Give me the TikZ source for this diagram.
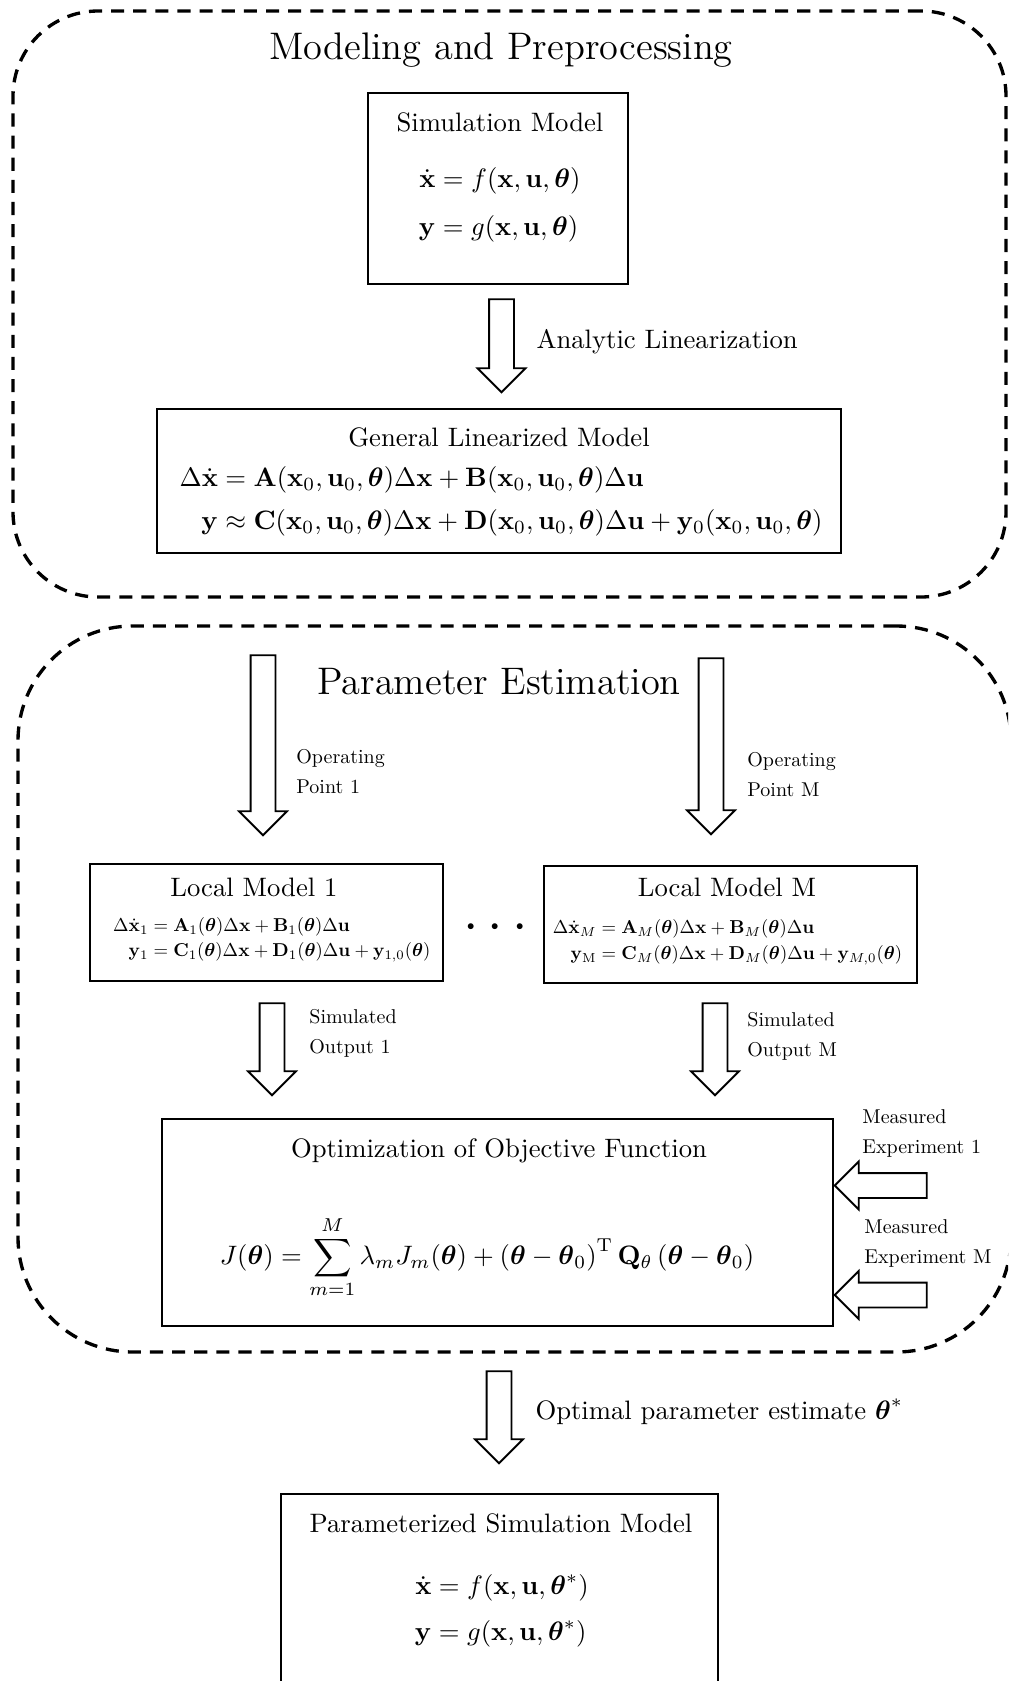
\documentclass[tikz,border=0pt]{standalone}
\usepackage{amsmath}
\usetikzlibrary{shapes.arrows}
\newcommand{\PX}{0.375pt}
\newcommand{\Vx}{\mathbf{x}}
\newcommand{\Vu}{\mathbf{u}}
\newcommand{\Vy}{\mathbf{y}}
\newcommand{\Vth}{\boldsymbol{\theta}}
\tikzset{
  panel/.style={draw, line width=1.25pt, dash pattern=on 4.9pt off 3.4pt, inner sep=0pt},
  box/.style={draw, line width=0.85pt, inner sep=0pt},
  txt/.style={inner sep=0pt},
  lab/.style={inner sep=0pt, anchor=west, align=left, font=\fontsize{10}{15}\selectfont, scale=0.75, transform shape},
  leq/.style={inner sep=0pt, anchor=west, scale=0.7, transform shape},
  eqline/.style={inner sep=0pt, anchor=west},
  blockarrow/.style={draw, line width=0.7pt, single arrow, single arrow head extend=4.3125pt,
    inner xsep=0pt, inner ysep=4.3125pt, minimum height=#1*0.375pt},
  darrow/.style={blockarrow=#1, rotate=-90},
  larrow/.style={blockarrow=#1, rotate=180},
}
\begin{document}
\begin{tikzpicture}[x=0.375pt, y=-0.375pt]
\useasboundingbox (0,0) rectangle (1008,1681);
\clip (0,0) rectangle (1008,1681);

% panels
\node[panel, rounded corners=31.9pt, minimum width=993*\PX, minimum height=586*\PX] (modpanel) at (509.5,304) {};
\node[panel, rounded corners=43pt, minimum width=993*\PX, minimum height=726*\PX] (estpanel) at (514.5,989) {};

% titles
\node[txt, font=\Large] (title1) at (501,50) {Modeling and Preprocessing};
\node[txt, font=\Large] (title2) at (499,682) {Parameter Estimation};

% simulation model
\node[box, minimum width=260*\PX, minimum height=191*\PX] (sim) at (498,188.5) {};
\node[txt] (simcap) at (500,122) {Simulation Model};
\node[eqline] (simeq1) at (435,181) {\llap{$\dot{\Vx}$}${}= f(\Vx,\Vu,\Vth)$};
\node[eqline] (simeq2) at (435,229) {\llap{$\Vy$}${}= g(\Vx,\Vu,\Vth)$};

% analytic linearization
\node[darrow=93] (alin) at (501.5,339.5) {};
\node[txt, anchor=west] (alinlab) at (536,342) {Analytic Linearization};

% general linearized model
\node[box, minimum width=684*\PX, minimum height=144*\PX] (glm) at (499,481) {};
\node[txt] (glmcap) at (499,437) {General Linearized Model};
\node[eqline] (glmeq1) at (217.5,480) {\llap{$\Delta\dot{\Vx}$}${}= \mathbf{A}(\Vx_0,\Vu_0,\Vth)\Delta\Vx + \mathbf{B}(\Vx_0,\Vu_0,\Vth)\Delta\Vu$};
\node[eqline] (glmeq2) at (217.5,523) {\llap{$\Vy$}${}\approx \mathbf{C}(\Vx_0,\Vu_0,\Vth)\Delta\Vx + \mathbf{D}(\Vx_0,\Vu_0,\Vth)\Delta\Vu + \Vy_0(\Vx_0,\Vu_0,\Vth)$};

% operating points
\node[darrow=180] (op1) at (263,739) {};
\node[lab] (op1lab) at (296,772) {Operating\\Point 1};
\node[darrow=176] (opM) at (711,740) {};
\node[lab] (opMlab) at (747,775) {Operating\\Point M};

% local models
\node[box, minimum width=353*\PX, minimum height=117*\PX] (lm1) at (266.5,922.5) {};
\node[txt] (lm1cap) at (254,887) {Local Model 1};
\node[leq] (lm1eq1) at (148,927) {\llap{$\Delta\dot{\Vx}_1$}${}= \mathbf{A}_1(\Vth)\Delta\Vx + \mathbf{B}_1(\Vth)\Delta\Vu$};
\node[leq] (lm1eq2) at (148,952) {\llap{$\Vy_1$}${}= \mathbf{C}_1(\Vth)\Delta\Vx + \mathbf{D}_1(\Vth)\Delta\Vu + \mathbf{y}_{1,0}(\Vth)$};

\node[txt, font=\fontsize{20.74}{24}\selectfont] (dots) at (500,928) {$\cdots$};

\node[box, minimum width=373*\PX, minimum height=117*\PX] (lmM) at (730.5,924.5) {};
\node[txt] (lmMcap) at (727,887) {Local Model M};
\node[leq] (lmMeq1) at (596,929) {\llap{$\Delta\dot{\Vx}_M$}${}= \mathbf{A}_M(\Vth)\Delta\Vx + \mathbf{B}_M(\Vth)\Delta\Vu$};
\node[leq] (lmMeq2) at (596,955) {\llap{$\Vy_{\mathrm{M}}$}${}= \mathbf{C}_M(\Vth)\Delta\Vx + \mathbf{D}_M(\Vth)\Delta\Vu + \Vy_{M,0}(\Vth)$};

% simulated outputs
\node[darrow=92] (so1) at (272,1043) {};
\node[lab] (so1lab) at (309,1033) {Simulated\\Output 1};
\node[darrow=92] (soM) at (715,1043) {};
\node[lab] (soMlab) at (747,1036) {Simulated\\Output M};

% optimization
\node[box, minimum width=671*\PX, minimum height=207*\PX] (opt) at (497.5,1222.5) {};
\node[txt] (optcap) at (499,1151) {Optimization of Objective Function};
\node[txt] (opteq) at (487,1257) {$\displaystyle J(\Vth) = \sum_{m=1}^{M}\lambda_m J_m(\Vth) + \left(\Vth-\Vth_0\right)^{\mathrm{T}}\mathbf{Q}_\theta\left(\Vth-\Vth_0\right)$};

% measured experiments
\node[larrow=92] (me1) at (887,1185.5) {};
\node[lab] (me1lab) at (862,1133) {Measured\\Experiment 1};
\node[larrow=92] (meM) at (887,1295) {};
\node[lab] (meMlab) at (864,1243) {Measured\\Experiment M};

% optimal estimate
\node[darrow=92] (oest) at (499,1411) {};
\node[txt, anchor=west] (oestlab) at (535,1412) {Optimal parameter estimate $\Vth^{*}$};

% parameterized model
\node[box, minimum width=437*\PX, minimum height=192*\PX] (par) at (499.5,1590) {};
\node[txt] (parcap) at (501,1523) {Parameterized Simulation Model};
\node[eqline] (pareq1) at (431,1588) {\llap{$\dot{\Vx}$}${}= f(\Vx,\Vu,\Vth^{*})$};
\node[eqline] (pareq2) at (431,1634) {\llap{$\Vy$}${}= g(\Vx,\Vu,\Vth^{*})$};
\end{tikzpicture}
\end{document}
